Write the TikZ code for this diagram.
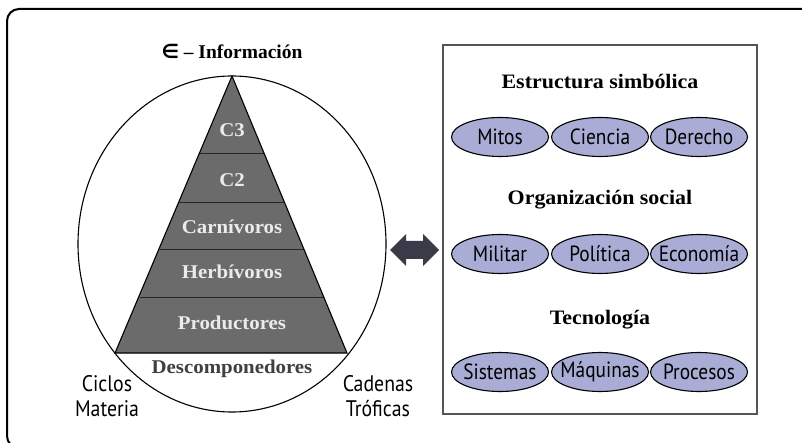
\documentclass[tikz,border=0pt]{standalone}
\usepackage{fontspec}
\setmainfont{Liberation Serif}
\newfontfamily\boldwide[FakeStretch=1.07]{Liberation Serif}
\newfontfamily\regfont[FakeStretch=0.88]{PT Sans}
\newfontfamily\symfont{DejaVu Sans}
\usetikzlibrary{shapes.geometric}
\definecolor{pyrfill}{HTML}{6B6B6B}
\definecolor{ellfill}{HTML}{A9ACD4}
\definecolor{boxline}{HTML}{555555}
\definecolor{arrowfill}{HTML}{3A3A48}
\newcommand{\pilltext}[1]{\makebox[0pt]{#1}}
\tikzset{
  pyrlabel/.style={font=\boldwide\bfseries\fontsize{19.5}{20}\selectfont, text=white!92!black, inner sep=0pt},
  title/.style={font=\boldwide\bfseries\fontsize{20.5}{21}\selectfont, inner sep=0pt},
  toptitle/.style={font=\bfseries\fontsize{19.5}{20}\selectfont, inner sep=0pt},
  reg/.style={font=\regfont\fontsize{22.5}{25}\selectfont, inner sep=0pt, align=center},
  pill/.style={ellipse, draw=black, line width=1.1pt, fill=ellfill, minimum width=97pt, minimum height=39pt, inner sep=0pt, font=\regfont\fontsize{22}{22}\selectfont}
}
\begin{document}
\begin{tikzpicture}[x=1pt,y=-1pt]
\useasboundingbox (0,0) rectangle (802,443);
\fill[white] (0,0) rectangle (802,443);
\begin{scope}
\clip (0,0) rectangle (802,443);
\draw[line width=2pt, rounded corners=12pt] (7,9) rectangle (840,448);
\end{scope}
% ellipse (circle)
\draw[line width=1.1pt] (232,244) ellipse [x radius=154, y radius=168];
% pyramid
\fill[pyrfill] (232,76) -- (347,353) -- (115,353) -- cycle;
\foreach \yy in {154,203,250,297} {
  \pgfmathsetmacro{\dx}{0.41516*(\yy-76)}
  \draw[line width=1pt, black!85] ({232-\dx},\yy) -- ({232+\dx},\yy);
}
\draw[line width=1.1pt] (232,76) -- (347,353) -- (115,353) -- cycle;
\node[toptitle] (tinfo) at (232,51) {{\symfont ∈} – Información};
\node[pyrlabel] (c3) at (232,130) {C3};
\node[pyrlabel] (c2) at (232,180) {C2};
\node[pyrlabel] (carn) at (232,227) {Carnívoros};
\node[pyrlabel] (herb) at (232,272) {Herbívoros};
\node[pyrlabel] (prod) at (232,323) {Productores};
\node[pyrlabel, text=black!75] (desc) at (232,369) {Descomponedores};
\node[reg] (ciclos) at (107,396) {Ciclos\\Materia};
\node[reg] (cadenas) at (378,396) {Cadenas\\Tróficas};
% double arrow
\fill[arrowfill] (390,250) -- (406,234) -- (406,241) -- (423,241) -- (423,234) -- (439,250) -- (423,266) -- (423,259) -- (406,259) -- (406,266) -- cycle;
% right box
\draw[boxline, line width=1.6pt] (443,45) rectangle (757,414);
\node[title] (est) at (600,82) {Estructura simbólica};
\node[title] (org) at (600,200) {Organización social};
\node[title] (tec) at (600,320) {Tecnología};
\node[pill] (mitos) at (500,137) {\pilltext{Mitos}};
\node[pill] (ciencia) at (600,137) {\pilltext{Ciencia}};
\node[pill] (derecho) at (699,137) {\pilltext{Derecho}};
\node[pill] (militar) at (500,254) {\pilltext{Militar}};
\node[pill] (politica) at (600,254) {\pilltext{Política}};
\node[pill] (economia) at (699,254) {\pilltext{Economía}};
\node[pill] (sistemas) at (500,372) {\pilltext{Sistemas}};
\node[pill] (maquinas) at (600,372) {\pilltext{Máquinas}};
\node[pill] (procesos) at (699,372) {\pilltext{Procesos}};
\end{tikzpicture}
\end{document}
